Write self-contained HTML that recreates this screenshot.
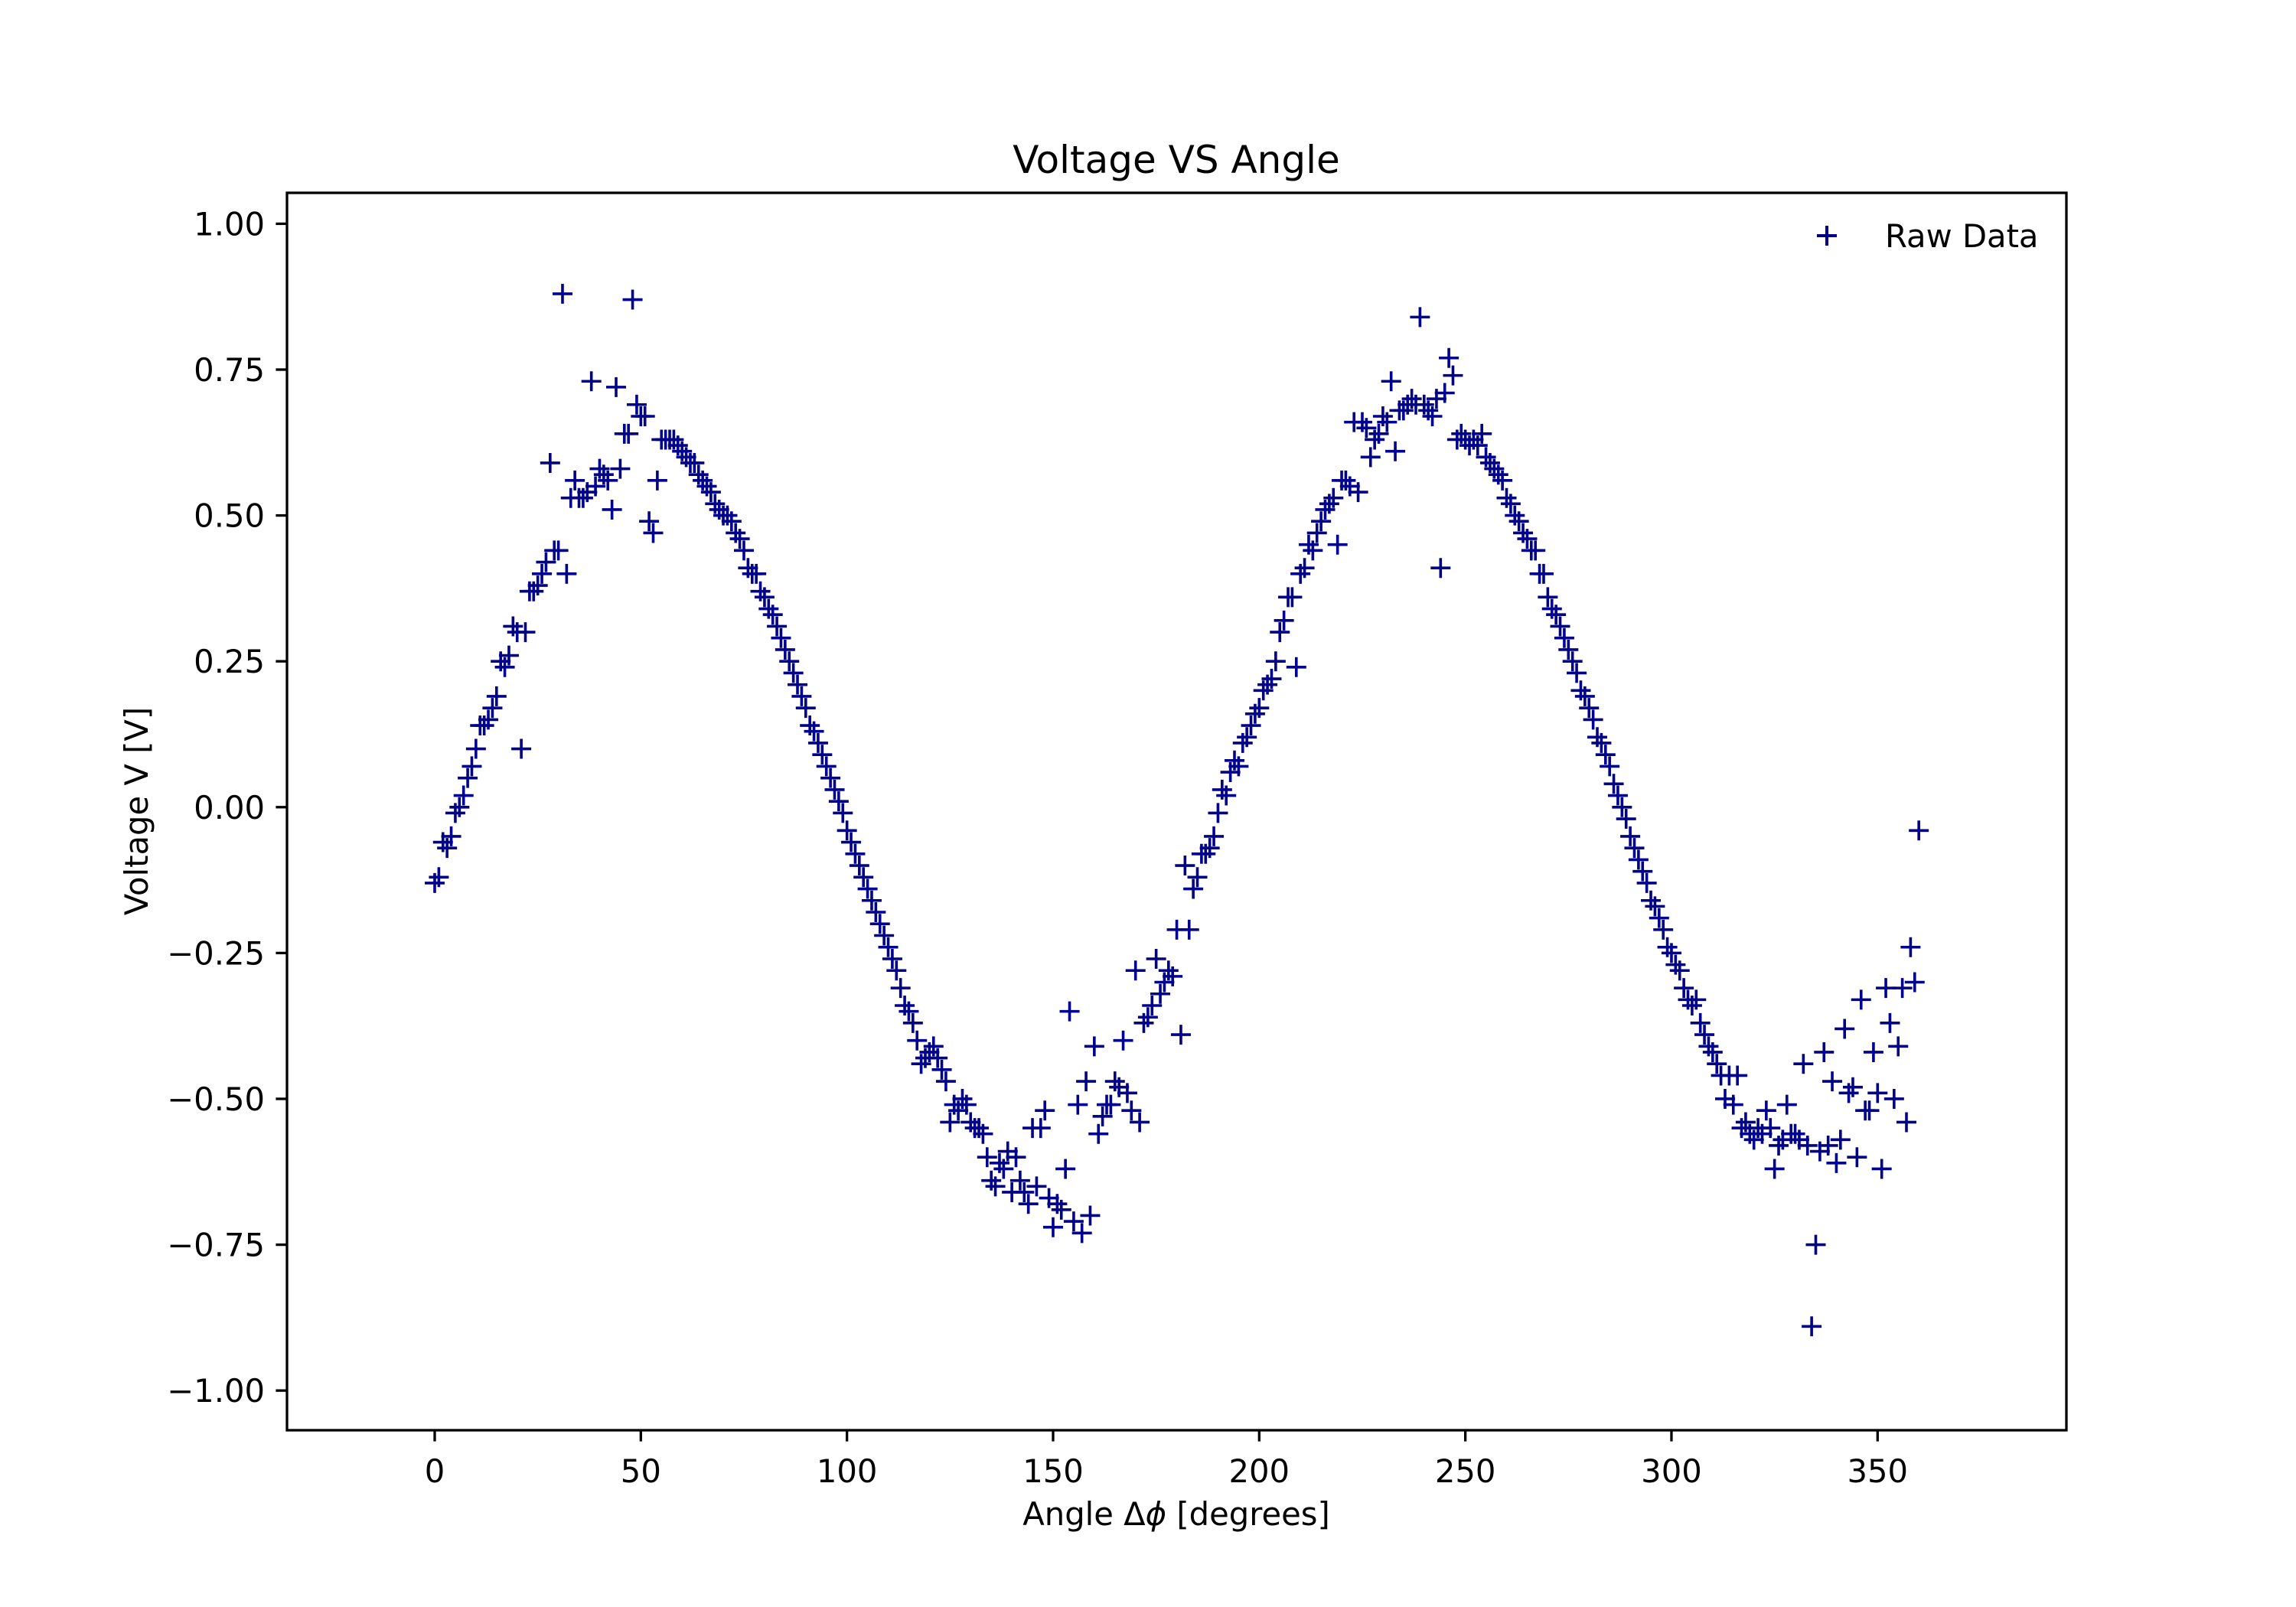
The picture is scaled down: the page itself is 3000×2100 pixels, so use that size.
<!DOCTYPE html>
<html><head><meta charset="utf-8"><style>
html,body{margin:0;padding:0;background:#fff;}
svg{display:block;font-family:"DejaVu Sans","Liberation Sans",sans-serif;}
</style></head><body>
<svg id="chart" width="3000" height="2100" viewBox="0 0 3000 2100" xmlns="http://www.w3.org/2000/svg">
<rect width="3000" height="2100" fill="#fff"/>
<text x="1537" y="226" font-size="50" text-anchor="middle">Voltage VS Angle</text>
<g id="ticks"></g>
<g id="points"></g>
<rect x="375" y="252" width="2325" height="1617" fill="none" stroke="#000" stroke-width="3.3"/>
<text x="1537" y="1993" font-size="41.7" text-anchor="middle">Angle Δ<tspan font-style="italic">ϕ</tspan> [degrees]</text>
<text x="0" y="0" font-size="41.7" text-anchor="middle" transform="translate(193,1060) rotate(-90)">Voltage V [V]</text>
<g>
<path d="M2374 308H2400M2387 295V321" stroke="#00008b" stroke-width="4"/>
<text x="2463" y="323" font-size="41.7">Raw Data</text>
</g>
</svg>
<script>
const xTicks = [0, 50, 100, 150, 200, 250, 300, 350];
const yTicks = [1.00, 0.75, 0.50, 0.25, 0.00, -0.25, -0.50, -0.75, -1.00];
const angles = [];
for (let a = 0; a <= 360; a++) angles.push(a);
const voltages = [
-0.13,-0.12,-0.06,-0.07,-0.05,-0.01,0.00,0.02,0.05,0.07,0.10,0.14,0.14,0.15,0.17,0.19,0.25,0.24,0.26,0.31,
0.30,0.10,0.30,0.37,0.37,0.38,0.40,0.42,0.59,0.44,0.44,0.88,0.40,0.53,0.56,0.53,0.53,0.54,0.73,0.55,
0.58,0.57,0.56,0.51,0.72,0.58,0.64,0.64,0.87,0.69,0.67,0.67,0.49,0.47,0.56,0.63,0.63,0.63,0.63,0.62,
0.61,0.60,0.59,0.59,0.57,0.56,0.55,0.54,0.52,0.51,0.50,0.50,0.49,0.47,0.46,0.44,0.41,0.40,0.40,0.37,
0.36,0.34,0.33,0.31,0.29,0.27,0.25,0.23,0.21,0.19,0.17,0.14,0.13,0.11,0.09,0.07,0.05,0.03,0.01,-0.01,
-0.04,-0.06,-0.08,-0.10,-0.12,-0.14,-0.16,-0.18,-0.20,-0.22,-0.24,-0.26,-0.28,-0.31,-0.34,-0.35,-0.37,-0.40,-0.44,-0.43,
-0.42,-0.41,-0.43,-0.45,-0.47,-0.54,-0.51,-0.52,-0.50,-0.51,-0.54,-0.55,-0.55,-0.56,-0.60,-0.64,-0.65,-0.61,-0.62,-0.59,
-0.66,-0.60,-0.64,-0.66,-0.68,-0.55,-0.65,-0.55,-0.52,-0.67,-0.72,-0.68,-0.69,-0.62,-0.35,-0.71,-0.51,-0.73,-0.47,-0.70,
-0.41,-0.56,-0.53,-0.51,-0.51,-0.47,-0.48,-0.40,-0.49,-0.52,-0.28,-0.54,-0.37,-0.36,-0.34,-0.26,-0.32,-0.30,-0.28,-0.29,
-0.21,-0.39,-0.10,-0.21,-0.14,-0.12,-0.08,-0.08,-0.07,-0.05,-0.01,0.03,0.02,0.06,0.08,0.07,0.11,0.12,0.14,0.16,
0.17,0.20,0.21,0.22,0.25,0.30,0.32,0.36,0.36,0.24,0.40,0.41,0.45,0.44,0.47,0.49,0.51,0.52,0.53,0.45,
0.56,0.56,0.55,0.66,0.54,0.66,0.65,0.60,0.63,0.64,0.67,0.66,0.73,0.61,0.68,0.68,0.69,0.70,0.69,0.84,
0.69,0.68,0.67,0.70,0.41,0.71,0.77,0.74,0.63,0.64,0.63,0.62,0.63,0.62,0.64,0.60,0.59,0.58,0.57,0.56,
0.53,0.52,0.50,0.49,0.47,0.46,0.44,0.44,0.40,0.40,0.36,0.34,0.33,0.31,0.29,0.27,0.25,0.23,0.20,0.19,
0.17,0.15,0.12,0.11,0.09,0.07,0.04,0.02,0.00,-0.02,-0.05,-0.07,-0.09,-0.11,-0.13,-0.16,-0.17,-0.19,-0.21,-0.24,
-0.25,-0.27,-0.28,-0.31,-0.33,-0.34,-0.33,-0.37,-0.39,-0.41,-0.42,-0.44,-0.46,-0.50,-0.46,-0.51,-0.46,-0.55,-0.54,-0.56,
-0.57,-0.55,-0.56,-0.52,-0.55,-0.62,-0.58,-0.57,-0.51,-0.56,-0.56,-0.57,-0.44,-0.58,-0.89,-0.75,-0.59,-0.42,-0.58,-0.47,
-0.61,-0.57,-0.38,-0.49,-0.48,-0.60,-0.33,-0.52,-0.52,-0.42,-0.49,-0.62,-0.31,-0.37,-0.50,-0.41,-0.31,-0.54,-0.24,-0.30,
-0.04
];
const NS = "http://www.w3.org/2000/svg";
const X0 = 375, X1 = 2700, Y0 = 252, Y1 = 1869;
const xMin = -35.83, xMax = 395.8, yMin = -1.068, yMax = 1.053;
function xScale(v){ return X0 + (v - xMin) / (xMax - xMin) * (X1 - X0); }
function yScale(v){ return Y1 - (v - yMin) / (yMax - yMin) * (Y1 - Y0); }
const tg = document.getElementById('ticks');
xTicks.forEach(t => {
  const x = xScale(t);
  const l = document.createElementNS(NS, 'line');
  
  
  l.setAttribute('x1', x); l.setAttribute('x2', x);
  l.setAttribute('y1', Y1); l.setAttribute('y2', Y1 + 14.6);
  l.setAttribute('stroke', '#000'); l.setAttribute('stroke-width', '3.3');
  tg.appendChild(l);
  const tx = document.createElementNS(NS, 'text');
  
  
  tx.setAttribute('x', x); tx.setAttribute('y', Y1 + 68);
  tx.setAttribute('font-size', '41.7'); tx.setAttribute('text-anchor', 'middle');
  tx.textContent = String(t);
  tg.appendChild(tx);
});
yTicks.forEach(t => {
  const y = yScale(t);
  const l = document.createElementNS(NS, 'line');
  
  
  l.setAttribute('x1', X0 - 14.6); l.setAttribute('x2', X0);
  l.setAttribute('y1', y); l.setAttribute('y2', y);
  l.setAttribute('stroke', '#000'); l.setAttribute('stroke-width', '3.3');
  tg.appendChild(l);
  const tx = document.createElementNS(NS, 'text');
  
  
  tx.setAttribute('x', X0 - 29); tx.setAttribute('y', y + 15);
  tx.setAttribute('font-size', '41.7'); tx.setAttribute('text-anchor', 'end');
  tx.textContent = (t < 0 ? '\u2212' : '') + Math.abs(t).toFixed(2);
  tg.appendChild(tx);
});
const pg = document.getElementById('points');
for (let i = 0; i < voltages.length; i++) {
  const x = xScale(angles[i]), y = yScale(voltages[i]);
  const p = document.createElementNS(NS, 'path');
  
  
  p.setAttribute('d', `M${x-13} ${y}H${x+13}M${x} ${y-13}V${y+13}`);
  p.setAttribute('stroke', '#00008b'); p.setAttribute('stroke-width', '3.6');
  pg.appendChild(p);
}
</script>
</body></html>
